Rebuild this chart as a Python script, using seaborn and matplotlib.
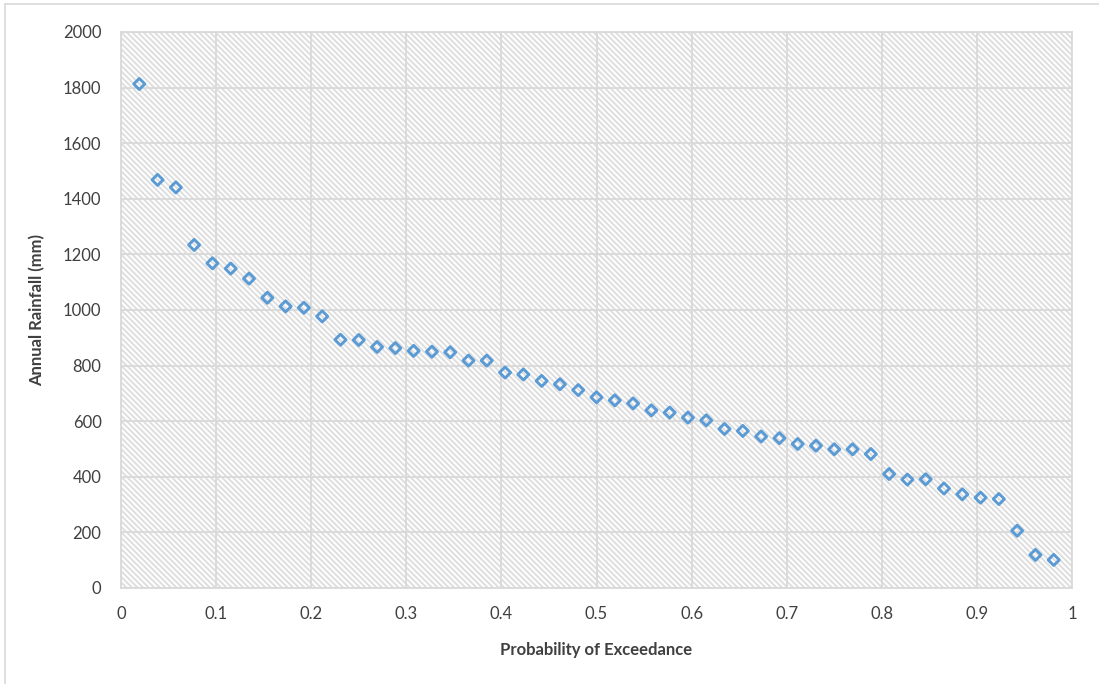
import numpy as np
import pandas as pd
import seaborn as sns
import matplotlib
matplotlib.use("Agg")
import matplotlib.pyplot as plt
from matplotlib.lines import Line2D

# Data: annual rainfall sorted descending, Weibull plotting positions (rank / (n+1))
rainfall_mm = [1813, 1468, 1441, 1234, 1168, 1149, 1113, 1044, 1013, 1008,
               977, 893, 892, 867, 863, 853, 850, 848, 818, 818,
               775, 768, 745, 733, 712, 686, 675, 664, 639, 631,
               613, 603, 572, 565, 545, 539, 518, 512, 499, 499,
               482, 410, 390, 391, 358, 337, 325, 320, 206, 119, 101]
rank = list(range(1, len(rainfall_mm) + 1))
n_years = len(rainfall_mm)
prob_exceed = [r / (n_years + 1) for r in rank]

x_ticks = [0, 0.1, 0.2, 0.3, 0.4, 0.5, 0.6, 0.7, 0.8, 0.9, 1]
x_tick_labels = ["0", "0.1", "0.2", "0.3", "0.4", "0.5", "0.6", "0.7", "0.8", "0.9", "1"]
y_ticks = [0, 200, 400, 600, 800, 1000, 1200, 1400, 1600, 1800, 2000]
y_tick_labels = [str(v) for v in y_ticks]

df = pd.DataFrame({"Probability of Exceedance": prob_exceed,
                   "Annual Rainfall (mm)": rainfall_mm})

sns.set_theme(style="white")
plt.rcParams["font.family"] = ["Lato", "DejaVu Sans"]
plt.rcParams["hatch.color"] = "#dedede"
plt.rcParams["hatch.linewidth"] = 1.4

fig = plt.figure(figsize=(10.99, 6.84), dpi=100)
ax = fig.add_axes([121 / 1099, 1 - 588 / 684, (1072 - 121) / 1099, (588 - 32) / 684])

# hatched plot area background
ax.patch.set_facecolor("white")
ax.patch.set_hatch("\\" * 6)
ax.patch.set_edgecolor("#dedede")
ax.patch.set_linewidth(0)

sns.scatterplot(data=df, x="Probability of Exceedance", y="Annual Rainfall (mm)",
                marker="D", s=32, ax=ax, zorder=3)
coll = ax.collections[-1]
coll.set_facecolor("none")
coll.set_edgecolor("#5b9bd5")
coll.set_linewidth(2.1)

ax.set_xlim(0, 1)
ax.set_ylim(0, 2000)
ax.set_xticks(x_ticks)
ax.set_xticklabels(x_tick_labels)
ax.set_yticks(y_ticks)
ax.set_yticklabels(y_tick_labels)
ax.grid(True, color="#d9d9d9", linewidth=1.3)
ax.set_axisbelow(True)
for sp in ax.spines.values():
    sp.set_visible(True)
    sp.set_color("#d9d9d9")
    sp.set_linewidth(1.3)

ax.tick_params(axis="both", length=0, labelsize=12, colors="#404040")
ax.tick_params(axis="x", pad=13)
ax.tick_params(axis="y", pad=14)
ax.set_xlabel("Probability of Exceedance", fontsize=12, fontweight="bold",
              color="#404040", labelpad=14)
ax.set_ylabel("Annual Rainfall (mm)", fontsize=12, fontweight="bold",
              color="#404040", labelpad=13)

# chart border (top and left visible)
fig.add_artist(Line2D([4.5 / 1099, 4.5 / 1099], [0, 1 - 3.5 / 684],
                      transform=fig.transFigure, color="#d9d9d9", linewidth=1.2))
fig.add_artist(Line2D([4.5 / 1099, 1], [1 - 3.5 / 684, 1 - 3.5 / 684],
                      transform=fig.transFigure, color="#d9d9d9", linewidth=1.2))

fig.savefig("out.png", dpi=100)
